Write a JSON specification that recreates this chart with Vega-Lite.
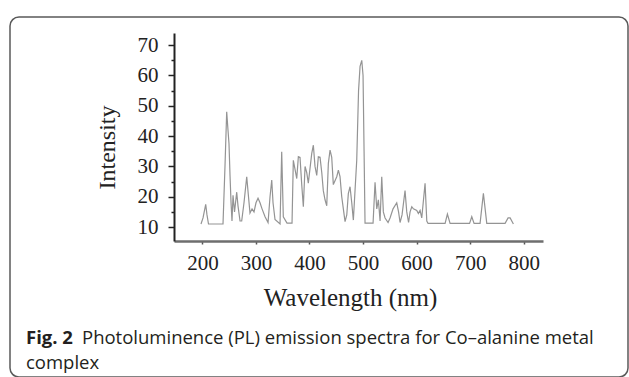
{
  "$schema": "https://vega.github.io/schema/vega-lite/v6.json",
  "width": 369,
  "height": 208,
  "autosize": "none",
  "padding": {"left": 174, "top": 33, "right": 86, "bottom": 136},
  "background": "white",
  "config": {"view": {"stroke": null}},
  "layer": [
    {
      "data": {"values": [{"k": "frame"}]},
      "mark": {"type": "rect", "fill": null, "stroke": "#5a5a5a", "strokeWidth": 1.5, "cornerRadius": 9},
      "encoding": {
        "x": {"value": -164},
        "x2": {"value": 454},
        "y": {"value": -16},
        "y2": {"value": 344}
      }
    },
    {
      "data": {"values": [
        {"w": 197.4, "i": 11}, {"w": 201.2, "i": 13}, {"w": 206.2, "i": 17.5}, {"w": 208.6, "i": 14}, {"w": 211.4, "i": 11},
        {"w": 238.5, "i": 11}, {"w": 242.2, "i": 30}, {"w": 245.4, "i": 48}, {"w": 247.8, "i": 42}, {"w": 249.7, "i": 37.5},
        {"w": 251.6, "i": 27}, {"w": 253.5, "i": 18}, {"w": 255.3, "i": 12}, {"w": 257.2, "i": 20.5}, {"w": 260.0, "i": 15},
        {"w": 264.1, "i": 21.5}, {"w": 266.5, "i": 17}, {"w": 270.3, "i": 12}, {"w": 273.4, "i": 12}, {"w": 277.7, "i": 18},
        {"w": 282.8, "i": 26.6}, {"w": 286.1, "i": 20}, {"w": 288.9, "i": 14.6}, {"w": 292.7, "i": 16}, {"w": 296.4, "i": 15},
        {"w": 300.1, "i": 18}, {"w": 303.9, "i": 19.5}, {"w": 307.6, "i": 18}, {"w": 311.4, "i": 16}, {"w": 317.0, "i": 13.4},
        {"w": 322.6, "i": 11.5}, {"w": 326.3, "i": 20}, {"w": 329.5, "i": 25.5}, {"w": 331.9, "i": 18}, {"w": 335.6, "i": 12.5},
        {"w": 345.0, "i": 11}, {"w": 348.1, "i": 34.8}, {"w": 351.1, "i": 13.4}, {"w": 358.0, "i": 11.3}, {"w": 367.4, "i": 11.3},
        {"w": 369.8, "i": 32}, {"w": 373.0, "i": 29}, {"w": 376.2, "i": 26}, {"w": 379.2, "i": 33.2}, {"w": 382.3, "i": 33},
        {"w": 385.5, "i": 24}, {"w": 388.5, "i": 16.7}, {"w": 391.7, "i": 30}, {"w": 394.8, "i": 28}, {"w": 397.8, "i": 24.5},
        {"w": 404.2, "i": 34.3}, {"w": 407.2, "i": 37}, {"w": 410.3, "i": 30}, {"w": 413.5, "i": 27}, {"w": 416.5, "i": 33.2},
        {"w": 419.7, "i": 33}, {"w": 422.9, "i": 28}, {"w": 425.8, "i": 22}, {"w": 429.0, "i": 19}, {"w": 432.2, "i": 17},
        {"w": 435.2, "i": 31}, {"w": 438.4, "i": 35.4}, {"w": 441.5, "i": 33}, {"w": 444.5, "i": 24}, {"w": 450.9, "i": 26.6},
        {"w": 453.9, "i": 28.8}, {"w": 457.0, "i": 26.6}, {"w": 460.2, "i": 20}, {"w": 463.2, "i": 16}, {"w": 466.4, "i": 11.8},
        {"w": 469.6, "i": 14}, {"w": 472.5, "i": 21}, {"w": 475.7, "i": 23.3}, {"w": 478.9, "i": 18}, {"w": 481.9, "i": 12.3},
        {"w": 488.2, "i": 32}, {"w": 491.6, "i": 55}, {"w": 494.4, "i": 63}, {"w": 497.6, "i": 65}, {"w": 500.0, "i": 60},
        {"w": 501.9, "i": 35}, {"w": 503.7, "i": 11.3}, {"w": 518.7, "i": 11.3}, {"w": 522.4, "i": 24.8}, {"w": 525.6, "i": 16},
        {"w": 528.6, "i": 19}, {"w": 531.8, "i": 12}, {"w": 534.9, "i": 26.6}, {"w": 537.9, "i": 15}, {"w": 541.1, "i": 13},
        {"w": 546.7, "i": 11.5}, {"w": 550.4, "i": 13}, {"w": 556.0, "i": 16}, {"w": 562.9, "i": 18}, {"w": 566.3, "i": 15},
        {"w": 569.1, "i": 11.5}, {"w": 572.8, "i": 14}, {"w": 578.4, "i": 22}, {"w": 581.6, "i": 15}, {"w": 585.0, "i": 11.5},
        {"w": 587.8, "i": 15}, {"w": 591.0, "i": 16.7}, {"w": 594.0, "i": 16}, {"w": 600.3, "i": 15.5}, {"w": 603.3, "i": 14.5},
        {"w": 606.5, "i": 15.5}, {"w": 609.6, "i": 13}, {"w": 615.8, "i": 24.4}, {"w": 619.0, "i": 12}, {"w": 621.4, "i": 11.2},
        {"w": 653.2, "i": 11.2}, {"w": 657.5, "i": 14.3}, {"w": 662.5, "i": 11.2}, {"w": 698.9, "i": 11.2}, {"w": 703.0, "i": 13.4},
        {"w": 707.3, "i": 11.2}, {"w": 718.5, "i": 11.2}, {"w": 724.7, "i": 21.1}, {"w": 731.0, "i": 11.2}, {"w": 765.2, "i": 11.2},
        {"w": 770.8, "i": 13}, {"w": 774.6, "i": 13}, {"w": 780.7, "i": 11}
      ]},
      "mark": {"type": "line", "color": "#949494", "strokeWidth": 1.2},
      "encoding": {
        "x": {
          "field": "w", "type": "quantitative",
          "scale": {"domain": [147, 836], "nice": false, "zero": false},
          "axis": {
            "values": [200, 300, 400, 500, 600, 700, 800],
            "grid": false,
            "domainColor": "#6e6e6e", "domainWidth": 2.5,
            "tickColor": "#555", "tickSize": 3, "tickWidth": 1.5,
            "labelFont": "Liberation Serif", "labelFontSize": 21, "labelColor": "#222", "labelPadding": 8,
            "title": "Wavelength (nm)",
            "titleFont": "Liberation Serif", "titleFontSize": 25, "titleFontWeight": "normal", "titleColor": "#222",
            "titleX": 176, "titleY": 56, "titleAlign": "center", "titleBaseline": "middle"
          }
        },
        "y": {
          "field": "i", "type": "quantitative",
          "scale": {"domain": [5.4, 74], "nice": false, "zero": false},
          "axis": {
            "values": [10, 15, 20, 25, 30, 35, 40, 45, 50, 55, 60, 65, 70],
            "labelExpr": "datum.value % 10 === 0 ? datum.label : ''",
            "grid": false,
            "domainColor": "#222", "domainWidth": 2,
            "tickColor": "#222", "tickWidth": 1.5,
            "tickSize": {"condition": {"test": "datum.value % 10 === 0", "value": 6}, "value": 3},
            "labelFont": "Liberation Serif", "labelFontSize": 21, "labelColor": "#222", "labelPadding": 10,
            "title": "Intensity",
            "titleFont": "Liberation Serif", "titleFontSize": 24, "titleFontWeight": "normal", "titleColor": "#222",
            "titleX": -67, "titleY": 114, "titleAngle": -90, "titleAlign": "center", "titleBaseline": "middle"
          }
        }
      }
    },
    {
      "data": {"values": [{"t": "Fig. 2"}]},
      "mark": {"type": "text", "font": "Open Sans", "fontSize": 18.5, "fontWeight": "bold", "align": "left", "baseline": "middle", "color": "#231f20"},
      "encoding": {"text": {"field": "t"}, "x": {"value": -148}, "y": {"value": 305}}
    },
    {
      "data": {"values": [{"t": "Photoluminence (PL) emission spectra for Co\u2013alanine metal"}]},
      "mark": {"type": "text", "font": "Open Sans", "fontSize": 18.5, "align": "left", "baseline": "middle", "color": "#231f20"},
      "encoding": {"text": {"field": "t"}, "x": {"value": -92}, "y": {"value": 305}}
    },
    {
      "data": {"values": [{"t": "complex"}]},
      "mark": {"type": "text", "font": "Open Sans", "fontSize": 18.5, "align": "left", "baseline": "middle", "color": "#231f20"},
      "encoding": {"text": {"field": "t"}, "x": {"value": -148}, "y": {"value": 330}}
    }
  ]
}
